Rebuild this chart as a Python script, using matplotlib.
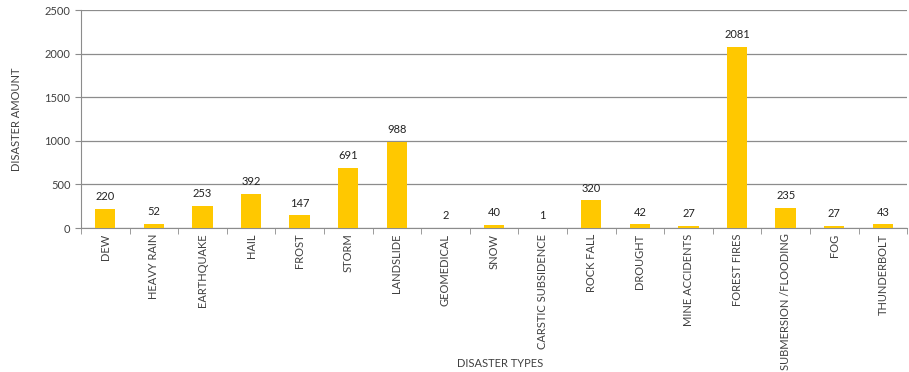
import matplotlib.pyplot as plt
import numpy as np

plt.rcParams['font.family'] = ['Lato', 'DejaVu Sans']

# disaster counts per type
types = ['DEW', 'HEAVY RAIN', 'EARTHQUAKE', 'HAIL', 'FROST', 'STORM', 'LANDSLIDE',
         'GEOMEDICAL', 'SNOW', 'CARSTIC SUBSIDENCE', 'ROCK FALL', 'DROUGHT',
         'MINE ACCIDENTS', 'FOREST FIRES', 'SUBMERSION /FLOODING', 'FOG', 'THUNDERBOLT']
amounts = [220, 52, 253, 392, 147, 691, 988, 2, 40, 1, 320, 42, 27, 2081, 235, 27, 43]

fig = plt.figure(figsize=(9.09, 3.72), dpi=100)
ax = fig.add_axes([0.089, 0.387, 0.909, 0.586])

x = np.arange(len(types))
bars = ax.bar(x, amounts, width=0.42, color='#FFC800', zorder=3)

# value above each bar
for xi, v in zip(x, amounts):
    ax.text(xi, v + 75, str(v), ha='center', va='bottom', fontsize=8, color='#222222')

ax.set_xlim(-0.5, len(types) - 0.5)
ax.set_ylim(0, 2500)
ax.set_yticks(np.arange(0, 2501, 500))
ax.yaxis.grid(True, color='#8c8c8c', linewidth=0.9, zorder=0)

ax.set_xticks(x)
ax.set_xticklabels(types, rotation=90, fontsize=8, color='#404040')
ax.set_xticks(np.arange(-0.5, len(types), 1), minor=True)
ax.tick_params(axis='x', which='major', length=0, pad=4)
ax.tick_params(axis='x', which='minor', length=4, color='#8c8c8c', direction='out')
ax.tick_params(axis='y', labelsize=8, labelcolor='#404040', length=4, color='#8c8c8c')

for side in ['top', 'right']:
    ax.spines[side].set_visible(False)
ax.spines['left'].set_color('#8c8c8c')
ax.spines['bottom'].set_color('#8c8c8c')

ax.set_ylabel('DISASTER AMOUNT', fontsize=8, color='#404040', labelpad=16)
fig.text(0.55, 0.024, 'DISASTER TYPES', ha='center', va='center', fontsize=8, color='#404040')

fig.savefig('out.png', dpi=100)
